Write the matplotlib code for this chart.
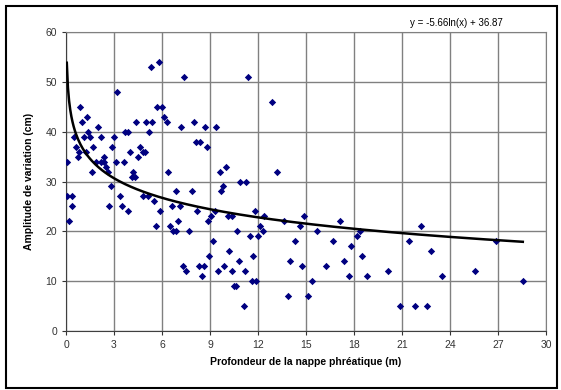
import numpy as np
import matplotlib.pyplot as plt
from matplotlib.patches import Rectangle

plt.rcParams['font.family'] = ['Liberation Sans', 'DejaVu Sans']

# profondeur de la nappe (m) et amplitude de variation (cm)
profondeur = [
    0.05, 0.06, 0.4, 0.9, 1.0, 1.3, 0.5, 0.6, 0.77, 0.83, 1.15, 1.25, 1.4, 1.5,
    1.7, 1.6, 2.0, 1.9, 2.2, 2.35, 2.4, 2.5, 2.6, 2.2, 2.8, 2.9, 3.0, 3.1, 3.2,
    3.6, 3.7, 3.85, 4.0, 4.1, 4.3, 4.2, 4.4, 4.5, 4.6, 4.8, 4.95, 5.0, 5.2, 5.3,
    5.4, 4.8, 5.1, 5.7, 5.8, 6.0, 6.1, 6.3, 6.4, 6.9, 7.2, 7.4, 7.9, 8.0, 8.1,
    8.4, 8.7, 8.8, 9.4, 9.6, 9.7, 9.8, 10.0, 10.9, 11.25, 11.4, 12.9, 13.2,
    0.35, 0.2, 2.7, 3.4, 3.5, 3.9, 5.5, 5.6, 5.9, 6.5, 6.6, 6.7, 6.9, 7.0, 7.15,
    7.3, 7.5, 7.7, 8.2, 8.3, 8.5, 8.6, 8.96, 8.9, 9.06, 9.2, 9.3, 9.5, 9.9, 10.1,
    10.2, 10.35, 10.4, 10.5, 10.6, 10.7, 10.8, 11.1, 11.2, 11.5, 11.6, 11.7,
    11.8, 11.9, 12.0, 12.1, 12.3, 12.4,
    13.65, 13.9, 14.0, 14.3, 14.6, 14.75, 14.9, 15.1, 15.35, 15.7, 16.25, 16.7,
    17.1, 17.35, 17.7, 17.8, 18.2, 18.4, 18.5, 18.8, 20.15, 20.9, 21.45, 21.8,
    22.2, 22.55, 22.8, 23.5, 25.55, 26.9, 28.55,
]
amplitude = [
    34, 27, 27, 45, 42, 43, 39, 37, 35, 36, 39, 36, 40, 39,
    37, 32, 41, 34, 39, 35, 34, 33, 32, 34, 29, 37, 39, 34, 48,
    34, 40, 40, 36, 31, 31, 32, 42, 35, 37, 36, 36, 42, 40, 53,
    42, 27, 27, 45, 54, 45, 43, 42, 32, 28, 41, 51, 28, 42, 38,
    38, 41, 37, 41, 32, 28, 29, 33, 30, 30, 51, 46, 32,
    25, 22, 25, 27, 25, 24, 26, 21, 24, 21, 25, 20, 20, 22, 25,
    13, 12, 20, 24, 13, 11, 13, 15, 22, 23, 18, 24, 12, 13, 23,
    16, 23, 12, 9, 9, 20, 14, 5, 12, 19, 10, 15,
    24, 10, 19, 21, 20, 23,
    22, 7, 14, 18, 21, 13, 23, 7, 10, 20, 13, 18,
    22, 14, 11, 17, 19, 20, 15, 11, 12, 5, 18, 5,
    21, 5, 16, 11, 12, 18, 10,
]

# courbe de tendance logarithmique
coef_a = -5.66
coef_b = 36.87

fig = plt.figure(figsize=(5.61, 3.9), dpi=100)
ax = fig.add_axes([66 / 561, 1 - 331 / 390, 480 / 561, 299 / 390])

ax.scatter(profondeur, amplitude, marker='D', s=14, color='#000080', zorder=3, linewidths=0)

xs = np.linspace(min(profondeur), max(profondeur), 400)
ax.plot(xs, coef_a * np.log(xs) + coef_b, color='black', linewidth=1.8, zorder=4)

ax.set_xlim(0, 30)
ax.set_ylim(0, 60)
ax.set_xticks(range(0, 31, 3))
ax.set_yticks(range(0, 61, 10))
ax.grid(True, color='#808080', linewidth=1.0)
ax.set_axisbelow(True)
ax.tick_params(labelsize=7.5, colors='#333333', length=3, width=0.8)
for s in ax.spines.values():
    s.set_color('#808080')
ax.spines['left'].set_color('#404040')
ax.spines['bottom'].set_color('#404040')

ax.set_xlabel('Profondeur de la nappe phréatique (m)', fontsize=7.5, fontweight='bold', labelpad=5)
ax.set_ylabel('Amplitude de variation (cm)', fontsize=7.5, fontweight='bold', labelpad=8)

fig.text(503 / 561, 1 - 23 / 390, 'y = -5.66ln(x) + 36.87', fontsize=7, ha='right', va='center')

# cadre du graphique
fig.patches.append(Rectangle((6 / 561, 1 - 388 / 390), 551 / 561, 382 / 390,
                             transform=fig.transFigure, fill=False,
                             edgecolor='black', linewidth=1.5))

fig.savefig('out.png', dpi=100)
